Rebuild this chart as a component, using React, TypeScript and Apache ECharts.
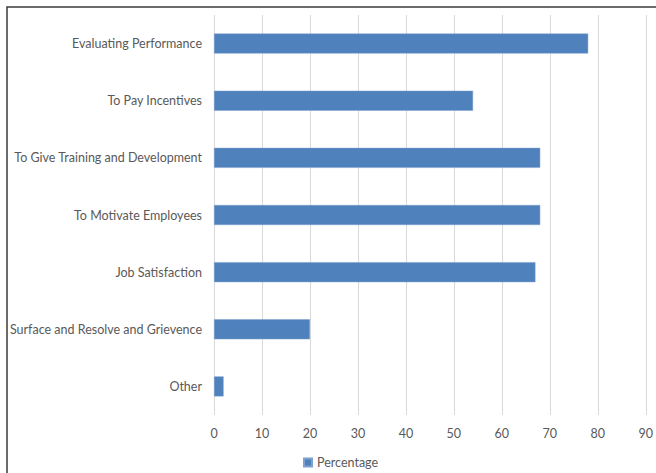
import React, { useEffect, useRef } from "react";
import * as echarts from "echarts";

const categories = [
  "Evaluating Performance",
  "To Pay Incentives",
  "To Give Training and Development",
  "To Motivate Employees",
  "Job Satisfaction",
  "Surface and Resolve and Grievence",
  "Other",
];
const percentages = [78, 54, 68, 68, 67, 20, 2];
const seriesName = "Percentage";

export default function App() {
  const ref = useRef<HTMLDivElement>(null);
  useEffect(() => {
    document.body.style.margin = "0";
    const chart = echarts.init(ref.current!, null, { renderer: "svg" });
    const font = "Lato, 'Open Sans', sans-serif";
    chart.setOption({
      animation: false,
      textStyle: { fontFamily: font },
      graphic: [
        {
          type: "rect",
          shape: { x: 7, y: 7, width: 700, height: 520 },
          style: { fill: "none", stroke: "#3a3a3a", lineWidth: 1.5 },
          silent: true,
          z: 100,
        },
      ],
      legend: {
        data: [seriesName],
        left: 298,
        top: 451,
        itemWidth: 8,
        itemHeight: 8,
        itemGap: 4,
        textStyle: { color: "#595959", fontSize: 12.5, fontFamily: font },
        icon: "rect",
      },
      grid: { left: 214, right: 8, top: 15, bottom: 58, containLabel: false },
      xAxis: {
        type: "value",
        min: 0,
        max: 90,
        interval: 10,
        axisLine: { show: false },
        axisTick: { show: false },
        splitLine: { show: true, lineStyle: { color: "#d9d9d9", width: 1 } },
        axisLabel: { color: "#595959", fontSize: 12.5, margin: 12, fontFamily: font },
      },
      yAxis: {
        type: "category",
        data: categories,
        inverse: true,
        axisLine: { show: false },
        axisTick: { show: false },
        axisLabel: { color: "#595959", fontSize: 12.5, margin: 12, fontFamily: font },
      },
      series: [
        {
          name: seriesName,
          type: "bar",
          data: percentages,
          barWidth: "35%",
          itemStyle: { color: "#4f81bd", borderColor: "#7ea1cf", borderWidth: 0.5 },
        },
      ],
    });
    return () => chart.dispose();
  }, []);
  return <div ref={ref} style={{ width: 656, height: 473 }} />;
}
